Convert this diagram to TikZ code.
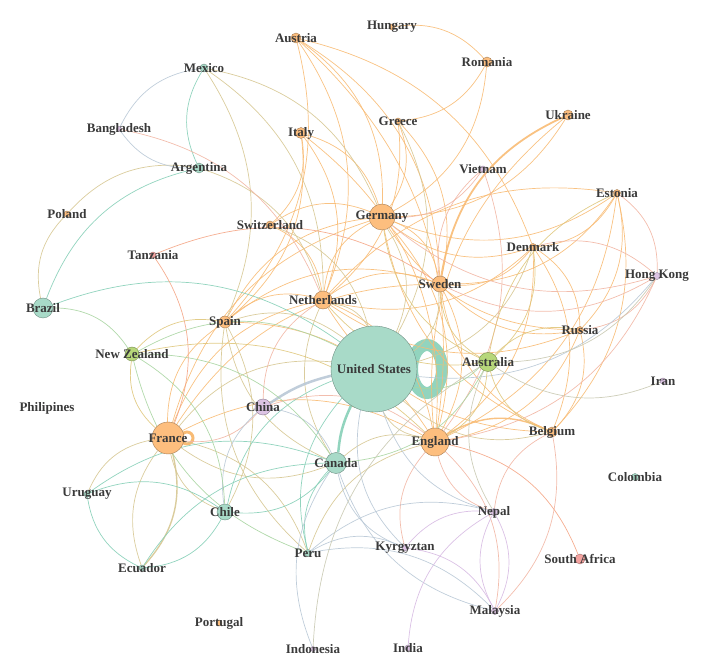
\documentclass[tikz,border=0pt]{standalone}
\usepackage{fontspec}
\setmainfont{Liberation Serif}
\usepackage{xcolor}
\usetikzlibrary{backgrounds}

% node colours
\definecolor{cteal}{HTML}{A8DAC8}
\definecolor{corange}{HTML}{FDBE7E}
\definecolor{cgreen}{HTML}{B7D77A}
\definecolor{cpurple}{HTML}{DCC3E3}
\definecolor{cpink}{HTML}{F4A3A0}
\definecolor{labelgray}{HTML}{3A3A3A}
% edge colours (mix of both ends)
\definecolor{eOO}{HTML}{F8BB74}
\definecolor{eOT}{HTML}{D6C792}
\definecolor{eTT}{HTML}{86CFB7}
\definecolor{eOP}{HTML}{F1B6A4}
\definecolor{eTP}{HTML}{B9C8D6}
\definecolor{ePP}{HTML}{D7BAE2}
\definecolor{eOG}{HTML}{DFC77C}
\definecolor{eTG}{HTML}{A9D5A2}
\definecolor{eGP}{HTML}{C9C9B2}
\definecolor{eOR}{HTML}{F4A585}

\begin{document}
\begin{tikzpicture}[x=1pt, y=-1pt,
      cty/.style={circle, draw=#1!65!black, fill=#1, line width=0.4pt, inner sep=0pt},
      lbl/.style={font=\fontsize{13}{15}\selectfont\bfseries, text=labelgray, inner sep=0pt},
      edge/.style={line width=0.7pt, opacity=0.9, bend left=28}]

    \useasboundingbox (0,0) rectangle (713,671);

    % ── Countries ──
    \node[cty=cteal, minimum size=86pt, label={[lbl]center:United States}] (us) at (374,369) {};
    \node[cty=corange, minimum size=28pt, label={[lbl]center:England}] (eng) at (435,442) {};
    \node[cty=corange, minimum size=32pt, label={[lbl]center:France}] (fra) at (168,438) {};
    \node[cty=corange, minimum size=26pt, label={[lbl]center:Germany}] (ger) at (382,217) {};
    \node[cty=corange, minimum size=18pt, label={[lbl]center:Netherlands}] (ned) at (323,300) {};
    \node[cty=corange, minimum size=16pt, label={[lbl]center:Sweden}] (swe) at (440,284) {};
    \node[cty=cgreen, minimum size=19pt, label={[lbl]center:Australia}] (aus) at (488,362) {};
    \node[cty=cteal, minimum size=21pt, label={[lbl]center:Canada}] (can) at (336,463) {};
    \node[cty=cpurple, minimum size=16pt, label={[lbl]center:China}] (chn) at (263,407) {};
    \node[cty=cteal, minimum size=16pt, label={[lbl]center:Chile}] (chl) at (225,512) {};
    \node[cty=cteal, minimum size=20pt, label={[lbl]center:Brazil}] (bra) at (43,308) {};
    \node[cty=cgreen, minimum size=14pt, label={[lbl]center:New Zealand}] (nzl) at (132,354) {};
    \node[cty=corange, minimum size=12pt, label={[lbl]center:Spain}] (esp) at (225,322) {};
    \node[cty=corange, minimum size=11pt, label={[lbl]center:Italy}] (ita) at (301,133) {};
    \node[cty=corange, minimum size=10pt, label={[lbl]center:Austria}] (aut) at (296,38) {};
    \node[cty=corange, minimum size=6pt, label={[lbl]center:Hungary}] (hun) at (392,27) {};
    \node[cty=corange, minimum size=10pt, label={[lbl]center:Romania}] (rou) at (487,62) {};
    \node[cty=corange, minimum size=6pt, label={[lbl]center:Greece}] (gre) at (398,121) {};
    \node[cty=corange, minimum size=10pt, label={[lbl]center:Ukraine}] (ukr) at (568,115) {};
    \node[cty=cpurple, minimum size=6pt, label={[lbl]center:Vietnam}] (vie) at (483,169) {};
    \node[cty=corange, minimum size=7pt, label={[lbl]center:Estonia}] (est) at (617,193) {};
    \node[cty=corange, minimum size=7pt, label={[lbl]center:Denmark}] (den) at (533,247) {};
    \node[cty=cpurple, minimum size=7pt, label={[lbl]center:Hong Kong}] (hkg) at (657,276) {};
    \node[cty=corange, minimum size=7pt, label={[lbl]center:Russia}] (rus) at (580,330) {};
    \node[cty=cpurple, minimum size=6pt, label={[lbl]center:Iran}] (irn) at (663,381) {};
    \node[cty=corange, minimum size=10pt, label={[lbl]center:Belgium}] (bel) at (552,432) {};
    \node[cty=cteal, minimum size=7pt, label={[lbl]center:Colombia}] (col) at (635,477) {};
    \node[cty=cpurple, minimum size=7pt, label={[lbl]center:Nepal}] (nep) at (494,512) {};
    \node[cty=cpurple, minimum size=6pt, label={[lbl]center:Kyrgyztan}] (kgz) at (405,548) {};
    \node[cty=cpink, minimum size=10pt, label={[lbl]center:South Africa}] (zaf) at (580,559) {};
    \node[cty=cpurple, minimum size=7pt, label={[lbl]center:Malaysia}] (mas) at (495,611) {};
    \node[cty=cpurple, minimum size=6pt, label={[lbl]center:India}] (ind) at (408,648) {};
    \node[cty=cpurple, minimum size=5pt, label={[lbl]center:Indonesia}] (ina) at (313,649) {};
    \node[cty=cteal, minimum size=7pt, label={[lbl]center:Peru}] (per) at (308,553) {};
    \node[cty=cteal, minimum size=6pt, label={[lbl]center:Ecuador}] (ecu) at (142,568) {};
    \node[cty=cteal, minimum size=6pt, label={[lbl]center:Uruguay}] (uru) at (87,494) {};
    \node[cty=corange, minimum size=6pt, label={[lbl]center:Portugal}] (por) at (219,623) {};
    \node[cty=cteal, minimum size=8pt, label={[lbl]center:Mexico}] (mex) at (204,68) {};
    \node[cty=cpurple, minimum size=5pt, label={[lbl]center:Bangladesh}] (ban) at (119,129) {};
    \node[cty=cteal, minimum size=10pt, label={[lbl]center:Argentina}] (arg) at (199,168) {};
    \node[cty=corange, minimum size=6pt, label={[lbl]center:Poland}] (pol) at (67,214) {};
    \node[cty=cpink, minimum size=6pt, label={[lbl]center:Tanzania}] (tan) at (153,255) {};
    \node[cty=corange, minimum size=8pt, label={[lbl]center:Switzerland}] (sui) at (270,225) {};
    \node[cty=cpurple, draw=none, minimum size=2pt, label={[lbl]center:Philipines}] (phi) at (47,408) {};

    % ── Links ──
    \begin{scope}[on background layer]
      % self links
      \draw[eTT, line width=12pt, opacity=0.9] ([xshift=53pt]us.center) ellipse [x radius=15pt, y radius=24pt];
      \draw[eOO, line width=3pt] ([xshift=19pt]fra.center) circle [radius=6pt];

      \foreach \a/\b in {aut/ger, aut/ned, aut/swe, aut/eng, aut/esp, aut/den,
          ita/esp, ita/ned, ita/sui, ita/ger, ita/eng, sui/ned, sui/ger,
          hun/rou, rou/gre, rou/ger, gre/ger, gre/swe, gre/ned, ukr/ger, eng/ukr,
          est/ger, est/swe, est/den, est/rus, est/eng, est/bel, ned/est,
          den/ger, den/swe, den/eng, den/rus, den/bel, den/ned,
          rus/ger, rus/swe, rus/eng, rus/bel, rus/ned, bel/ger, bel/swe, bel/ned,
          fra/eng, fra/ger, fra/ned, fra/esp, fra/swe,
          esp/ned, esp/ger, esp/eng, esp/swe, ned/ger, ned/swe, ned/eng,
          ger/swe, ger/eng, swe/eng}
        \draw[edge, eOO] (\a) to (\b);
      \draw[edge, eOO, line width=1.8pt] (swe) to (ukr);
      \draw[edge, eOO, line width=1.4pt] (eng) to (bel);

      \foreach \a/\b in {mex/esp, mex/ned, mex/ger, pol/arg, arg/ned, bra/pol,
          sui/us, gre/us, den/us, bel/us, can/fra, can/eng, can/ned, can/esp,
          chl/fra, esp/chl, ecu/fra, uru/fra, fra/us, fra/per, esp/us, per/esp,
          ned/us, ger/us, swe/us, eng/us, per/eng}
        \draw[edge, eOT] (\a) to (\b);
      \draw[edge, eOT, line width=1.4pt] (fra) to (ecu);

      \foreach \a/\b in {arg/mex, bra/arg, bra/us, can/chl, ecu/can, uru/can,
          uru/chl, chl/ecu, ecu/uru, chl/us, per/can, per/us}
        \draw[edge, eTT] (\a) to (\b);
      \draw[edge, eTT, line width=2.5pt, bend left=10] (can) to (us);

      \foreach \a/\b in {ban/ned, vie/ger, swe/vie, vie/eng, est/hkg, den/hkg,
          hkg/ger, hkg/rus, hkg/eng, nep/eng, nep/bel, eng/mas, bel/mas,
          kgz/eng, chn/fra, chn/eng, chn/ned, hkg/swe}
        \draw[edge, eOP] (\a) to (\b);

      \foreach \a/\b in {ban/mex, arg/ban, hkg/us, nep/us, per/nep, per/mas,
          mas/can, kgz/us, kgz/can, per/kgz, ina/can, chl/chn, chn/can}
        \draw[edge, eTP] (\a) to (\b);
      \draw[edge, eTP, line width=2.5pt, bend left=10] (chn) to (us);

      \foreach \a/\b in {nep/mas, mas/nep, ind/nep, kgz/nep, kgz/mas}
        \draw[edge, ePP] (\a) to (\b);

      \foreach \a/\b in {aus/ger, aus/swe, aus/eng, aus/est, den/aus, aus/rus,
          bel/aus, aus/ned, nzl/esp, nzl/eng, fra/nzl}
        \draw[edge, eOG] (\a) to (\b);

      \foreach \a/\b in {aus/us, nzl/us, nzl/can, nzl/chl, per/nzl, bra/nzl, aus/can}
        \draw[edge, eTG] (\a) to (\b);

      \foreach \a/\b in {irn/aus, ina/aus, hkg/aus, nep/aus}
        \draw[edge, eGP] (\a) to (\b);

      \foreach \a/\b in {tan/fra, tan/swe, eng/zaf}
        \draw[edge, eOR] (\a) to (\b);
    \end{scope}

  \end{tikzpicture}
\end{document}
